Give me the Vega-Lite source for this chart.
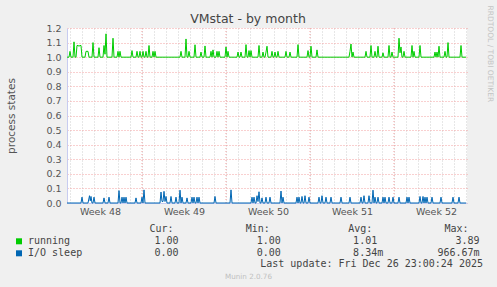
{
"$schema": "https://vega.github.io/schema/vega-lite/v6.json",
"width": 400, "height": 175,
"autosize": {"type": "none"},
"padding": {"left": 67, "top": 28, "right": 30, "bottom": 84},
"background": "#f0f0f0",
"title": {"text": "VMstat - by month", "anchor": "middle", "frame": "group", "dx": -19, "fontSize": 12.5, "fontWeight": "normal", "font": "DejaVu Sans", "color": "#444444", "offset": -30.5, "baseline": "alphabetic"},
"datasets": {
"weeks": [{"w":144},{"w":312},{"w":480},{"w":648}],
"series": [
{"h":-6,"v":1,"s":"running"},{"h":-2,"v":1,"s":"running"},{"h":0,"v":1.04,"s":"running"},{"h":2,"v":1,"s":"running"},{"h":6,"v":1,"s":"running"},{"h":8,"v":1.105,"s":"running"},{"h":10,"v":1,"s":"running"},{"h":12,"v":1,"s":"running"},{"h":14,"v":1.08,"s":"running"},{"h":16,"v":1.08,"s":"running"},{"h":18,"v":1.075,"s":"running"},{"h":20,"v":1.08,"s":"running"},{"h":22,"v":1.08,"s":"running"},{"h":24,"v":1,"s":"running"},{"h":30,"v":1,"s":"running"},{"h":32,"v":1.04,"s":"running"},{"h":36,"v":1.04,"s":"running"},{"h":38,"v":1,"s":"running"},{"h":44,"v":1,"s":"running"},{"h":46,"v":1.1,"s":"running"},{"h":48,"v":1,"s":"running"},{"h":56,"v":1,"s":"running"},{"h":58,"v":1.065,"s":"running"},{"h":60,"v":1,"s":"running"},{"h":66,"v":1,"s":"running"},{"h":68,"v":1.08,"s":"running"},{"h":70,"v":1.02,"s":"running"},{"h":72,"v":1.16,"s":"running"},{"h":74,"v":1,"s":"running"},{"h":84,"v":1,"s":"running"},{"h":86,"v":1.13,"s":"running"},{"h":88,"v":1,"s":"running"},{"h":94,"v":1,"s":"running"},{"h":96,"v":1.04,"s":"running"},{"h":98,"v":1,"s":"running"},{"h":100,"v":1.04,"s":"running"},{"h":102,"v":1,"s":"running"},{"h":122,"v":1,"s":"running"},{"h":124,"v":1.045,"s":"running"},{"h":126,"v":1,"s":"running"},{"h":132,"v":1,"s":"running"},{"h":134,"v":1.04,"s":"running"},{"h":136,"v":1,"s":"running"},{"h":138,"v":1,"s":"running"},{"h":140,"v":1.04,"s":"running"},{"h":142,"v":1,"s":"running"},{"h":144,"v":1,"s":"running"},{"h":146,"v":1.04,"s":"running"},{"h":148,"v":1,"s":"running"},{"h":150,"v":1,"s":"running"},{"h":152,"v":1.04,"s":"running"},{"h":154,"v":1,"s":"running"},{"h":156,"v":1,"s":"running"},{"h":158,"v":1.08,"s":"running"},{"h":160,"v":1,"s":"running"},{"h":164,"v":1,"s":"running"},{"h":166,"v":1.04,"s":"running"},{"h":168,"v":1,"s":"running"},{"h":170,"v":1.04,"s":"running"},{"h":172,"v":1,"s":"running"},{"h":220,"v":1,"s":"running"},{"h":222,"v":1.04,"s":"running"},{"h":224,"v":1,"s":"running"},{"h":230,"v":1,"s":"running"},{"h":232,"v":1.125,"s":"running"},{"h":234,"v":1,"s":"running"},{"h":236,"v":1,"s":"running"},{"h":238,"v":1.04,"s":"running"},{"h":240,"v":1,"s":"running"},{"h":248,"v":1,"s":"running"},{"h":250,"v":1.085,"s":"running"},{"h":252,"v":1,"s":"running"},{"h":260,"v":1,"s":"running"},{"h":262,"v":1.035,"s":"running"},{"h":264,"v":1,"s":"running"},{"h":268,"v":1,"s":"running"},{"h":270,"v":1.077,"s":"running"},{"h":272,"v":1,"s":"running"},{"h":280,"v":1,"s":"running"},{"h":282,"v":1.04,"s":"running"},{"h":284,"v":1,"s":"running"},{"h":286,"v":1.05,"s":"running"},{"h":288,"v":1,"s":"running"},{"h":292,"v":1,"s":"running"},{"h":294,"v":1.04,"s":"running"},{"h":296,"v":1,"s":"running"},{"h":298,"v":1.04,"s":"running"},{"h":300,"v":1,"s":"running"},{"h":310,"v":1,"s":"running"},{"h":312,"v":1.07,"s":"running"},{"h":314,"v":1,"s":"running"},{"h":316,"v":1.04,"s":"running"},{"h":318,"v":1,"s":"running"},{"h":334,"v":1,"s":"running"},{"h":336,"v":1.035,"s":"running"},{"h":338,"v":1,"s":"running"},{"h":340,"v":1,"s":"running"},{"h":342,"v":1.035,"s":"running"},{"h":344,"v":1,"s":"running"},{"h":350,"v":1,"s":"running"},{"h":352,"v":1.086,"s":"running"},{"h":354,"v":1,"s":"running"},{"h":356,"v":1,"s":"running"},{"h":358,"v":1.045,"s":"running"},{"h":360,"v":1,"s":"running"},{"h":362,"v":1.045,"s":"running"},{"h":364,"v":1,"s":"running"},{"h":376,"v":1,"s":"running"},{"h":378,"v":1.08,"s":"running"},{"h":380,"v":1,"s":"running"},{"h":384,"v":1,"s":"running"},{"h":386,"v":1.035,"s":"running"},{"h":388,"v":1,"s":"running"},{"h":390,"v":1,"s":"running"},{"h":392,"v":1.035,"s":"running"},{"h":394,"v":1.075,"s":"running"},{"h":396,"v":1,"s":"running"},{"h":402,"v":1,"s":"running"},{"h":404,"v":1.04,"s":"running"},{"h":406,"v":1,"s":"running"},{"h":408,"v":1,"s":"running"},{"h":410,"v":1.035,"s":"running"},{"h":412,"v":1,"s":"running"},{"h":414,"v":1,"s":"running"},{"h":416,"v":1.04,"s":"running"},{"h":418,"v":1,"s":"running"},{"h":430,"v":1,"s":"running"},{"h":432,"v":1.04,"s":"running"},{"h":434,"v":1,"s":"running"},{"h":438,"v":1,"s":"running"},{"h":440,"v":1.035,"s":"running"},{"h":442,"v":1,"s":"running"},{"h":454,"v":1,"s":"running"},{"h":456,"v":1.086,"s":"running"},{"h":458,"v":1,"s":"running"},{"h":474,"v":1,"s":"running"},{"h":476,"v":1.045,"s":"running"},{"h":478,"v":1,"s":"running"},{"h":480,"v":1,"s":"running"},{"h":482,"v":1.075,"s":"running"},{"h":484,"v":1,"s":"running"},{"h":492,"v":1,"s":"running"},{"h":494,"v":1.05,"s":"running"},{"h":496,"v":1,"s":"running"},{"h":558,"v":1,"s":"running"},{"h":560,"v":1.04,"s":"running"},{"h":562,"v":1.09,"s":"running"},{"h":564,"v":1,"s":"running"},{"h":566,"v":1.035,"s":"running"},{"h":568,"v":1,"s":"running"},{"h":590,"v":1,"s":"running"},{"h":592,"v":1.04,"s":"running"},{"h":594,"v":1,"s":"running"},{"h":600,"v":1,"s":"running"},{"h":602,"v":1.08,"s":"running"},{"h":604,"v":1,"s":"running"},{"h":608,"v":1,"s":"running"},{"h":610,"v":1.04,"s":"running"},{"h":612,"v":1,"s":"running"},{"h":614,"v":1,"s":"running"},{"h":616,"v":1.075,"s":"running"},{"h":618,"v":1,"s":"running"},{"h":624,"v":1,"s":"running"},{"h":626,"v":1.03,"s":"running"},{"h":628,"v":1,"s":"running"},{"h":636,"v":1,"s":"running"},{"h":638,"v":1.08,"s":"running"},{"h":640,"v":1,"s":"running"},{"h":642,"v":1,"s":"running"},{"h":644,"v":1.035,"s":"running"},{"h":646,"v":1,"s":"running"},{"h":656,"v":1,"s":"running"},{"h":658,"v":1.13,"s":"running"},{"h":660,"v":1.03,"s":"running"},{"h":662,"v":1.07,"s":"running"},{"h":664,"v":1,"s":"running"},{"h":666,"v":1,"s":"running"},{"h":668,"v":1.04,"s":"running"},{"h":670,"v":1,"s":"running"},{"h":682,"v":1,"s":"running"},{"h":684,"v":1.08,"s":"running"},{"h":686,"v":1,"s":"running"},{"h":688,"v":1.04,"s":"running"},{"h":690,"v":1,"s":"running"},{"h":698,"v":1,"s":"running"},{"h":700,"v":1.08,"s":"running"},{"h":702,"v":1,"s":"running"},{"h":728,"v":1,"s":"running"},{"h":730,"v":1.035,"s":"running"},{"h":732,"v":1,"s":"running"},{"h":734,"v":1.035,"s":"running"},{"h":736,"v":1,"s":"running"},{"h":738,"v":1.075,"s":"running"},{"h":740,"v":1,"s":"running"},{"h":748,"v":1,"s":"running"},{"h":750,"v":1.04,"s":"running"},{"h":752,"v":1,"s":"running"},{"h":754,"v":1,"s":"running"},{"h":756,"v":1.1,"s":"running"},{"h":758,"v":1,"s":"running"},{"h":780,"v":1,"s":"running"},{"h":782,"v":1.08,"s":"running"},{"h":784,"v":1,"s":"running"},{"h":792,"v":1,"s":"running"},
{"h":-6,"v":0,"s":"I/O sleep"},{"h":22,"v":0,"s":"I/O sleep"},{"h":24,"v":0.04,"s":"I/O sleep"},{"h":26,"v":0,"s":"I/O sleep"},{"h":36,"v":0,"s":"I/O sleep"},{"h":39,"v":0.05,"s":"I/O sleep"},{"h":40.5,"v":0.015,"s":"I/O sleep"},{"h":42,"v":0.045,"s":"I/O sleep"},{"h":44,"v":0,"s":"I/O sleep"},{"h":46,"v":0,"s":"I/O sleep"},{"h":48,"v":0.04,"s":"I/O sleep"},{"h":50,"v":0,"s":"I/O sleep"},{"h":66,"v":0,"s":"I/O sleep"},{"h":68,"v":0.035,"s":"I/O sleep"},{"h":70,"v":0,"s":"I/O sleep"},{"h":76,"v":0,"s":"I/O sleep"},{"h":78,"v":0.04,"s":"I/O sleep"},{"h":80,"v":0,"s":"I/O sleep"},{"h":96,"v":0,"s":"I/O sleep"},{"h":98,"v":0.085,"s":"I/O sleep"},{"h":100,"v":0,"s":"I/O sleep"},{"h":102,"v":0,"s":"I/O sleep"},{"h":104,"v":0.04,"s":"I/O sleep"},{"h":106,"v":0,"s":"I/O sleep"},{"h":108,"v":0.04,"s":"I/O sleep"},{"h":110,"v":0,"s":"I/O sleep"},{"h":112,"v":0.04,"s":"I/O sleep"},{"h":114,"v":0,"s":"I/O sleep"},{"h":130,"v":0,"s":"I/O sleep"},{"h":132,"v":0.035,"s":"I/O sleep"},{"h":134,"v":0,"s":"I/O sleep"},{"h":142,"v":0,"s":"I/O sleep"},{"h":144,"v":0.04,"s":"I/O sleep"},{"h":146,"v":0,"s":"I/O sleep"},{"h":148,"v":0.09,"s":"I/O sleep"},{"h":150,"v":0,"s":"I/O sleep"},{"h":180,"v":0,"s":"I/O sleep"},{"h":182,"v":0.075,"s":"I/O sleep"},{"h":184,"v":0.01,"s":"I/O sleep"},{"h":186,"v":0.01,"s":"I/O sleep"},{"h":188,"v":0.08,"s":"I/O sleep"},{"h":190,"v":0.01,"s":"I/O sleep"},{"h":192,"v":0.045,"s":"I/O sleep"},{"h":194,"v":0,"s":"I/O sleep"},{"h":200,"v":0,"s":"I/O sleep"},{"h":202,"v":0.045,"s":"I/O sleep"},{"h":204,"v":0,"s":"I/O sleep"},{"h":210,"v":0,"s":"I/O sleep"},{"h":212,"v":0.04,"s":"I/O sleep"},{"h":214,"v":0,"s":"I/O sleep"},{"h":218,"v":0,"s":"I/O sleep"},{"h":220,"v":0.088,"s":"I/O sleep"},{"h":222,"v":0,"s":"I/O sleep"},{"h":224,"v":0.04,"s":"I/O sleep"},{"h":226,"v":0,"s":"I/O sleep"},{"h":232,"v":0,"s":"I/O sleep"},{"h":234,"v":0.035,"s":"I/O sleep"},{"h":236,"v":0,"s":"I/O sleep"},{"h":242,"v":0,"s":"I/O sleep"},{"h":244,"v":0.04,"s":"I/O sleep"},{"h":246,"v":0,"s":"I/O sleep"},{"h":248,"v":0.04,"s":"I/O sleep"},{"h":250,"v":0,"s":"I/O sleep"},{"h":252,"v":0,"s":"I/O sleep"},{"h":254,"v":0.04,"s":"I/O sleep"},{"h":256,"v":0,"s":"I/O sleep"},{"h":258,"v":0.04,"s":"I/O sleep"},{"h":260,"v":0,"s":"I/O sleep"},{"h":288,"v":0,"s":"I/O sleep"},{"h":290,"v":0.045,"s":"I/O sleep"},{"h":292,"v":0,"s":"I/O sleep"},{"h":320,"v":0,"s":"I/O sleep"},{"h":322,"v":0.09,"s":"I/O sleep"},{"h":324,"v":0,"s":"I/O sleep"},{"h":362,"v":0,"s":"I/O sleep"},{"h":364,"v":0.04,"s":"I/O sleep"},{"h":366,"v":0,"s":"I/O sleep"},{"h":368,"v":0.04,"s":"I/O sleep"},{"h":370,"v":0,"s":"I/O sleep"},{"h":372,"v":0,"s":"I/O sleep"},{"h":374,"v":0.05,"s":"I/O sleep"},{"h":376,"v":0.01,"s":"I/O sleep"},{"h":378,"v":0.077,"s":"I/O sleep"},{"h":380,"v":0,"s":"I/O sleep"},{"h":382,"v":0,"s":"I/O sleep"},{"h":384,"v":0.035,"s":"I/O sleep"},{"h":386,"v":0,"s":"I/O sleep"},{"h":390,"v":0,"s":"I/O sleep"},{"h":392,"v":0.04,"s":"I/O sleep"},{"h":394,"v":0,"s":"I/O sleep"},{"h":398,"v":0,"s":"I/O sleep"},{"h":400,"v":0.04,"s":"I/O sleep"},{"h":402,"v":0,"s":"I/O sleep"},{"h":420,"v":0,"s":"I/O sleep"},{"h":422,"v":0.082,"s":"I/O sleep"},{"h":424,"v":0,"s":"I/O sleep"},{"h":426,"v":0.04,"s":"I/O sleep"},{"h":428,"v":0,"s":"I/O sleep"},{"h":452,"v":0,"s":"I/O sleep"},{"h":454,"v":0.04,"s":"I/O sleep"},{"h":456,"v":0,"s":"I/O sleep"},{"h":458,"v":0.04,"s":"I/O sleep"},{"h":460,"v":0,"s":"I/O sleep"},{"h":462,"v":0,"s":"I/O sleep"},{"h":464,"v":0.045,"s":"I/O sleep"},{"h":466,"v":0,"s":"I/O sleep"},{"h":468,"v":0,"s":"I/O sleep"},{"h":470,"v":0.05,"s":"I/O sleep"},{"h":472,"v":0,"s":"I/O sleep"},{"h":476,"v":0,"s":"I/O sleep"},{"h":478,"v":0.04,"s":"I/O sleep"},{"h":480,"v":0,"s":"I/O sleep"},{"h":496,"v":0,"s":"I/O sleep"},{"h":498,"v":0.04,"s":"I/O sleep"},{"h":500,"v":0,"s":"I/O sleep"},{"h":502,"v":0,"s":"I/O sleep"},{"h":504,"v":0.05,"s":"I/O sleep"},{"h":506,"v":0,"s":"I/O sleep"},{"h":510,"v":0,"s":"I/O sleep"},{"h":512,"v":0.04,"s":"I/O sleep"},{"h":514,"v":0,"s":"I/O sleep"},{"h":520,"v":0,"s":"I/O sleep"},{"h":522,"v":0.04,"s":"I/O sleep"},{"h":524,"v":0,"s":"I/O sleep"},{"h":540,"v":0,"s":"I/O sleep"},{"h":542,"v":0.04,"s":"I/O sleep"},{"h":544,"v":0,"s":"I/O sleep"},{"h":558,"v":0,"s":"I/O sleep"},{"h":560,"v":0.04,"s":"I/O sleep"},{"h":562,"v":0,"s":"I/O sleep"},{"h":580,"v":0,"s":"I/O sleep"},{"h":582,"v":0.04,"s":"I/O sleep"},{"h":584,"v":0,"s":"I/O sleep"},{"h":586,"v":0,"s":"I/O sleep"},{"h":588,"v":0.05,"s":"I/O sleep"},{"h":590,"v":0,"s":"I/O sleep"},{"h":596,"v":0,"s":"I/O sleep"},{"h":598,"v":0.05,"s":"I/O sleep"},{"h":600,"v":0,"s":"I/O sleep"},{"h":604,"v":0,"s":"I/O sleep"},{"h":606,"v":0.088,"s":"I/O sleep"},{"h":608,"v":0,"s":"I/O sleep"},{"h":610,"v":0.04,"s":"I/O sleep"},{"h":612,"v":0,"s":"I/O sleep"},{"h":614,"v":0,"s":"I/O sleep"},{"h":616,"v":0.04,"s":"I/O sleep"},{"h":618,"v":0,"s":"I/O sleep"},{"h":624,"v":0,"s":"I/O sleep"},{"h":626,"v":0.04,"s":"I/O sleep"},{"h":628,"v":0,"s":"I/O sleep"},{"h":630,"v":0.04,"s":"I/O sleep"},{"h":632,"v":0,"s":"I/O sleep"},{"h":636,"v":0,"s":"I/O sleep"},{"h":638,"v":0.04,"s":"I/O sleep"},{"h":640,"v":0,"s":"I/O sleep"},{"h":644,"v":0,"s":"I/O sleep"},{"h":646,"v":0.04,"s":"I/O sleep"},{"h":648,"v":0,"s":"I/O sleep"},{"h":656,"v":0,"s":"I/O sleep"},{"h":658,"v":0.04,"s":"I/O sleep"},{"h":660,"v":0,"s":"I/O sleep"},{"h":672,"v":0,"s":"I/O sleep"},{"h":674,"v":0.04,"s":"I/O sleep"},{"h":676,"v":0,"s":"I/O sleep"},{"h":678,"v":0.04,"s":"I/O sleep"},{"h":680,"v":0,"s":"I/O sleep"},{"h":698,"v":0,"s":"I/O sleep"},{"h":700,"v":0.045,"s":"I/O sleep"},{"h":702,"v":0,"s":"I/O sleep"},{"h":704,"v":0,"s":"I/O sleep"},{"h":706,"v":0.045,"s":"I/O sleep"},{"h":708,"v":0,"s":"I/O sleep"},{"h":710,"v":0.04,"s":"I/O sleep"},{"h":712,"v":0,"s":"I/O sleep"},{"h":714,"v":0.04,"s":"I/O sleep"},{"h":716,"v":0,"s":"I/O sleep"},{"h":722,"v":0,"s":"I/O sleep"},{"h":724,"v":0.04,"s":"I/O sleep"},{"h":726,"v":0,"s":"I/O sleep"},{"h":740,"v":0,"s":"I/O sleep"},{"h":742,"v":0.04,"s":"I/O sleep"},{"h":744,"v":0,"s":"I/O sleep"},{"h":764,"v":0,"s":"I/O sleep"},{"h":766,"v":0.04,"s":"I/O sleep"},{"h":768,"v":0,"s":"I/O sleep"},{"h":776,"v":0,"s":"I/O sleep"},{"h":778,"v":0.04,"s":"I/O sleep"},{"h":780,"v":0,"s":"I/O sleep"},{"h":792,"v":0,"s":"I/O sleep"}
]
},
"layer": [
{
"data": {"name": "weeks"},
"mark": {"type": "rule", "color": "#f2a0a0", "strokeDash": [1, 2], "strokeWidth": 1},
"encoding": {
"x": {"field": "w", "type": "quantitative", "scale": {"domain": [-6, 794], "nice": false, "zero": false},
"axis": {"orient": "top", "labels": false, "ticks": false, "domain": false, "grid": false, "title": "Munin 2.0.76", "titleX": 181, "titleY": 248, "titleAlign": "center", "titleBaseline": "middle", "titleAngle": 0, "titleFont": "DejaVu Sans", "titleFontSize": 7.2, "titleFontWeight": "normal", "titleColor": "#c0c0c0"}},
"y": {"datum": 0, "type": "quantitative", "scale": {"domain": [0, 1.2], "nice": false},
"axis": {"orient": "right", "labels": false, "ticks": false, "domain": false, "grid": false, "title": "RRDTOOL / TOBI OETIKER", "titleX": 22, "titleY": -23, "titleAngle": 90, "titleAlign": "left", "titleBaseline": "middle", "titleFont": "DejaVu Sans", "titleFontSize": 7.5, "titleFontWeight": "normal", "titleColor": "#c4c4c4"}},
"y2": {"datum": 1.2}
}
},
{
"data": {"name": "series"},
"mark": {"type": "line", "strokeWidth": 1, "interpolate": "linear"},
"encoding": {
"x": {"field": "h", "type": "quantitative", "scale": {"domain": [-6, 794], "nice": false, "zero": false},
"axis": {"orient": "bottom", "values": [0,24,48,60,72,96,120,144,168,192,216,228,240,264,288,312,336,360,384,396,408,432,456,480,504,528,552,564,576,600,624,648,672,696,720,732,744,768,792],
"grid": true, "gridColor": {"condition": {"test": "datum.value % 24 == 0", "value": "#cfcfcf"}, "value": "transparent"}, "gridDash": [1, 2], "gridWidth": 1,
"ticks": false, "labelExpr": "datum.value % 24 == 12 ? 'Week ' + (48 + (datum.value - 60) / 168) : ''", "labelFlush": false, "labelOverlap": false, "labelPadding": 3, "labelFont": "DejaVu Sans", "labelFontSize": 9.5, "labelColor": "#555555",
"domainColor": "#c8ccf0", "domainWidth": 1,
"title": "Last update: Fri Dec 26 23:00:24 2025", "titleX": 415.5, "titleY": 60.3, "titleAlign": "right", "titleBaseline": "middle", "titleFont": "DejaVu Sans Mono", "titleFontSize": 10, "titleFontWeight": "normal", "titleColor": "#444444"}},
"y": {"field": "v", "type": "quantitative", "scale": {"domain": [0, 1.2], "nice": false},
"axis": {"orient": "left", "values": [0, 0.1, 0.2, 0.3, 0.4, 0.5, 0.6, 0.7, 0.8, 0.9, 1.0, 1.1, 1.2], "format": ".1f",
"grid": true, "gridColor": "#f2a0a0", "gridDash": [1, 2], "gridWidth": 1, "ticks": false, "labelPadding": 6, "labelFont": "DejaVu Sans", "labelFontSize": 9.5, "labelColor": "#555555",
"domainColor": "#c8ccf0", "domainWidth": 1,
"title": "process states", "titleX": -56, "titleY": 87.5, "titleAlign": "center", "titleBaseline": "middle", "titleFont": "DejaVu Sans", "titleFontSize": 10.5, "titleFontWeight": "normal", "titleColor": "#555555"}},
"color": {"field": "s", "type": "nominal", "scale": {"domain": ["running", "I/O sleep"], "range": ["#00cc00", "#0066b3"]},
"legend": {"orient": "none", "legendX": -50, "legendY": 196.3, "direction": "vertical",
"title": "\u200b\u00a0\u00a0\u00a0\u00a0\u00a0\u00a0\u00a0\u00a0\u00a0\u00a0\u00a0\u00a0\u00a0\u00a0\u00a0\u00a0\u00a0\u00a0\u00a0\u00a0\u00a0\u00a0Cur:\u00a0\u00a0\u00a0\u00a0\u00a0\u00a0\u00a0\u00a0\u00a0\u00a0\u00a0\u00a0Min:\u00a0\u00a0\u00a0\u00a0\u00a0\u00a0\u00a0\u00a0\u00a0\u00a0\u00a0\u00a0\u00a0Avg:\u00a0\u00a0\u00a0\u00a0\u00a0\u00a0\u00a0\u00a0\u00a0\u00a0\u00a0\u00a0Max:",
"titleFont": "DejaVu Sans Mono", "titleFontSize": 10, "titleFontWeight": "normal", "titleColor": "#444444", "titlePadding": 2, "titleLimit": 1000,
"labelFont": "DejaVu Sans Mono", "labelFontSize": 10, "labelColor": "#444444", "labelLimit": 1000, "labelOffset": 4,
"symbolType": "square", "symbolSize": 36, "symbolStrokeWidth": 0, "symbolOffset": -3, "rowPadding": 2,
"labelExpr": "datum.label == 'running' ? 'running\u00a0\u00a0\u00a0\u00a0\u00a0\u00a0\u00a0\u00a0\u00a0\u00a0\u00a0\u00a0\u00a0\u00a01.00\u00a0\u00a0\u00a0\u00a0\u00a0\u00a0\u00a0\u00a0\u00a0\u00a0\u00a0\u00a0\u00a01.00\u00a0\u00a0\u00a0\u00a0\u00a0\u00a0\u00a0\u00a0\u00a0\u00a0\u00a0\u00a01.01\u00a0\u00a0\u00a0\u00a0\u00a0\u00a0\u00a0\u00a0\u00a0\u00a0\u00a0\u00a0\u00a03.89' : 'I/O sleep\u00a0\u00a0\u00a0\u00a0\u00a0\u00a0\u00a0\u00a0\u00a0\u00a0\u00a0\u00a00.00\u00a0\u00a0\u00a0\u00a0\u00a0\u00a0\u00a0\u00a0\u00a0\u00a0\u00a0\u00a0\u00a00.00\u00a0\u00a0\u00a0\u00a0\u00a0\u00a0\u00a0\u00a0\u00a0\u00a0\u00a0\u00a08.34m\u00a0\u00a0\u00a0\u00a0\u00a0\u00a0\u00a0\u00a0\u00a0966.67m'",
"encode": {"symbols": {"update": {"fill": {"scale": "color", "field": "value"}, "fillOpacity": {"value": 1}}}}}}
}
}
],
"resolve": {"axis": {"x": "independent", "y": "independent"}},
"config": {"view": {"fill": "#ffffff", "stroke": null}}
}
